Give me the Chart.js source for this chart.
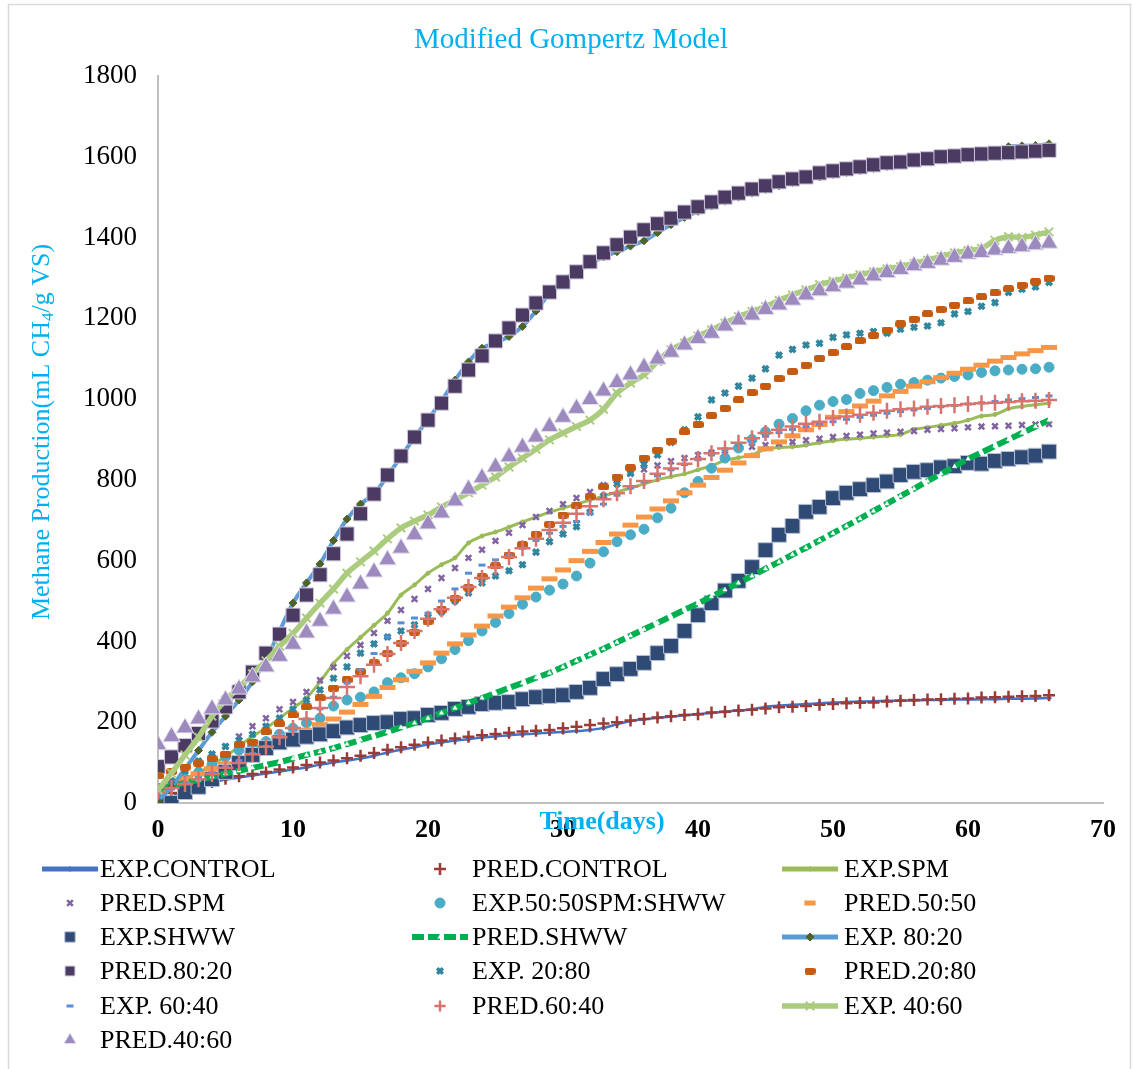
<!DOCTYPE html>
<html>
<head>
<meta charset="utf-8">
<title>Modified Gompertz Model</title>
<script src="https://cdn.jsdelivr.net/npm/chart.js@4.4.1/dist/chart.umd.min.js"></script>
<style>
  html, body { margin: 0; padding: 0; background: #ffffff; overflow: hidden; }
  #wrap { position: absolute; left: 0; top: 0; width: 1135px; height: 1069px; }
</style>
</head>
<body>
<div id="wrap"><canvas id="gompertz"></canvas></div>
<script>
// days of digestion
const days = [0,1,2,3,4,5,6,7,8,9,10,11,12,13,14,15,16,17,18,19,20,21,22,23,24,25,26,27,28,29,30,31,32,33,
  34,35,36,37,38,39,40,41,42,43,44,45,46,47,48,49,50,51,52,53,54,55,56,57,58,59,60,61,62,63,64,65,66];

// cumulative methane, mL CH4/g VS
const expControl = [0,15,30,42,50,58,63,68,73,78,83,88,95,100,105,110,117,125,132,138,145,150,155,158,162,165,168,170,172,174,
  176,178,181,186,195,203,207,211,214,217,220,223,226,229,232,238,241,243,245,247,249,250,251,252,253,254,254,255,255,256,
  256,257,257,258,258,259,260];
const predControl = [15,25,35,45,52,60,66,72,77,83,88,94,100,105,111,117,124,132,138,144,150,155,160,164,168,171,174,177,179,181,
  185,189,193,197,200,204,208,212,215,218,220,224,226,229,231,234,237,238,240,243,245,247,248,249,251,253,255,256,257,258,
  259,261,262,263,264,265,267];
const expSpm = [30,45,60,75,95,115,140,165,185,210,235,260,300,345,380,410,440,470,515,540,569,590,607,644,661,671,683,696,708,720,
  730,740,750,760,770,780,790,800,808,815,825,835,848,855,862,876,880,882,886,892,897,901,903,906,909,912,925,930,935,940,
  948,958,962,976,982,986,990];
const predSpm = [20,45,69,90,115,140,165,190,210,232,250,275,304,336,364,391,421,451,478,505,530,557,582,607,627,649,669,688,708,723,
  740,755,770,787,803,815,826,836,846,854,861,867,872,877,882,886,890,894,898,902,906,909,912,915,917,919,921,924,926,928,
  930,932,933,934,936,937,938];
const exp5050 = [30,45,60,75,95,114,131,139,152,170,185,198,210,240,255,262,275,298,310,320,337,357,380,402,426,447,469,492,510,527,
  542,562,594,622,647,664,678,706,730,768,796,829,854,879,900,919,938,952,971,985,994,999,1014,1021,1029,1037,1041,1047,1052,1056,
  1060,1066,1070,1072,1074,1075,1079];
const pred5050 = [40,50,60,72,85,97,110,123,137,151,165,180,194,208,225,244,264,286,305,326,347,371,394,416,438,463,485,508,532,555,
  577,600,623,645,666,688,708,728,748,768,787,806,824,842,860,877,894,909,924,937,955,969,983,995,1008,1019,1032,1043,1053,1064,
  1074,1084,1094,1103,1112,1120,1128];
const expShww = [0,0,27,40,59,77,99,119,136,150,157,164,170,178,187,193,198,200,208,210,218,223,233,238,245,248,250,257,262,265,
  267,275,285,307,319,332,347,371,389,426,465,495,526,550,584,626,664,686,721,733,755,768,777,787,796,812,820,824,831,834,
  842,840,847,852,856,860,870];
const predShww = [35,42,50,57,65,73,80,87,94,101,110,119,127,136,146,156,166,176,187,198,210,223,235,248,260,272,285,297,310,322,
  337,352,367,382,398,414,430,446,462,478,494,511,528,545,562,580,597,615,632,650,668,686,704,723,741,760,778,797,815,833,
  852,868,884,900,916,932,948];
const exp8020 = [5,40,85,130,175,215,255,300,355,425,495,545,592,650,703,740,765,810,858,905,950,995,1047,1092,1126,1140,1155,1180,1218,1262,
  1295,1315,1335,1352,1365,1379,1392,1412,1432,1450,1465,1478,1490,1500,1510,1519,1528,1536,1543,1550,1556,1561,1566,1571,1576,1581,
  1586,1590,1594,1598,1602,1606,1612,1625,1627,1628,1632];
const pred8020 = [90,114,142,172,203,238,275,324,371,418,465,515,565,617,666,716,765,812,859,906,948,990,1032,1072,1107,1144,1176,1208,1238,1265,
  1290,1315,1340,1362,1382,1401,1419,1434,1448,1463,1476,1488,1500,1510,1520,1528,1538,1545,1550,1560,1565,1570,1575,1580,1585,1587,
  1592,1595,1600,1602,1605,1607,1609,1610,1612,1614,1616];
const exp2080 = [40,55,80,104,121,140,155,170,190,210,232,255,280,309,337,371,394,411,426,441,460,473,500,520,545,562,575,590,621,647,
  666,684,720,760,790,817,839,862,893,924,956,998,1015,1032,1052,1075,1109,1123,1134,1138,1153,1159,1163,1167,1163,1173,1178,1181,1189,1211,
  1217,1230,1239,1264,1272,1278,1289];
const pred2080 = [67,78,89,99,110,121,144,151,176,196,218,238,260,284,305,325,347,370,396,423,450,478,506,533,560,587,614,640,665,690,
  713,736,758,783,807,830,854,874,896,919,937,959,977,998,1016,1032,1051,1068,1084,1101,1115,1130,1145,1158,1171,1186,1198,1211,1222,1233,
  1243,1253,1263,1273,1282,1291,1299];
const exp6040 = [20,35,50,62,75,90,105,122,140,163,185,208,233,262,297,330,370,411,446,458,470,500,530,569,589,602,615,631,650,668,
  685,697,716,740,762,780,795,810,825,838,850,862,874,886,897,908,917,925,932,938,944,950,955,960,965,969,973,977,981,984,
  988,991,994,998,1001,1004,1008];
const pred6040 = [27,37,47,59,72,87,99,121,139,163,186,208,235,260,287,314,342,369,396,426,456,480,508,535,557,584,609,631,654,676,
  694,716,735,752,767,784,797,815,828,840,852,866,878,892,903,916,924,932,939,944,953,957,961,966,971,975,977,981,983,985,
  988,990,991,993,995,996,998];
const exp4060 = [32,74,119,163,215,255,285,320,352,388,420,458,495,530,569,597,624,654,681,698,713,733,750,768,787,807,832,854,876,899,
  916,932,948,975,1015,1040,1060,1093,1122,1139,1156,1171,1188,1204,1217,1229,1244,1258,1270,1283,1292,1300,1308,1315,1322,1328,
  1336,1344,1353,1362,1368,1373,1393,1402,1400,1406,1414];
const pred4060 = [144,164,186,208,233,255,282,312,337,363,393,421,450,480,510,542,572,602,631,664,691,718,748,777,805,832,857,881,906,932,
  955,977,999,1020,1041,1060,1079,1099,1116,1134,1150,1163,1181,1196,1208,1222,1233,1245,1258,1268,1278,1287,1295,1305,1313,1321,
  1330,1336,1344,1351,1359,1363,1369,1373,1377,1382,1386];

const serif = "'Liberation Serif', 'Times New Roman', serif";
const cyan = '#00B0F0';

function pts(vals) {
    return days.map((d, i) => ({ x: d, y: vals[i] }));
}

// small rounded bar used as a marker
function pill(w, h, color) {
    const c = document.createElement('canvas');
    c.width = w; c.height = h;
    const g = c.getContext('2d');
    g.fillStyle = color;
    g.beginPath();
    g.roundRect(0, 0, w, h, 2.5);
    g.fill();
    return c;
}

function lineSet(label, vals, color, width, marker) {
    return Object.assign({
        label: label, data: pts(vals), showLine: true,
        borderColor: color, borderWidth: width, tension: 0.3,
        pointBackgroundColor: color, pointBorderColor: color, pointBorderWidth: 1
    }, marker);
}

function dotSet(label, vals, marker) {
    return Object.assign({ label: label, data: pts(vals), showLine: false }, marker);
}

const datasets = [
    lineSet('EXP.CONTROL', expControl, '#4472C4', 2.5, { pointStyle: 'rectRot', pointRadius: 2.5, legendWidth: 5 }),
    dotSet('PRED.CONTROL', predControl, { pointStyle: 'cross', pointRadius: 6, pointBorderColor: '#9B3B38', pointBorderWidth: 2.5 }),
    lineSet('EXP.SPM', expSpm, '#9BBB59', 3, { pointStyle: 'circle', pointRadius: 2, legendWidth: 5 }),
    dotSet('PRED.SPM', predSpm, { pointStyle: 'crossRot', pointRadius: 4, pointBorderColor: '#8064A2', pointBorderWidth: 2.5 }),
    dotSet('EXP.50:50SPM:SHWW', exp5050, { pointStyle: 'circle', pointRadius: 5, pointBackgroundColor: '#4BACC6', pointBorderColor: '#4BACC6', pointBorderWidth: 1 }),
    dotSet('PRED.50:50', pred5050, { pointStyle: 'line', pointRadius: 8, pointBorderColor: '#F79646', pointBorderWidth: 5 }),
    dotSet('EXP.SHWW', expShww, { pointStyle: 'rect', pointRadius: 10.5, pointBackgroundColor: '#2E4A75', pointBorderColor: '#B8C2D6', pointBorderWidth: 1 }),
    lineSet('PRED.SHWW', predShww, '#00B050', 6, { borderDash: [12, 4], tension: 0, pointStyle: 'triangle', pointRadius: 2.5,
        pointBackgroundColor: '#ffffff', pointBorderColor: '#ffffff', pointBorderWidth: 0.5 }),
    lineSet('EXP. 80:20', exp8020, '#5B9BD5', 4, { pointStyle: 'rectRot', pointRadius: 4, pointBackgroundColor: '#4F6228', pointBorderColor: '#4F6228', legendWidth: 5 }),
    dotSet('PRED.80:20', pred8020, { pointStyle: 'rect', pointRadius: 10, pointBackgroundColor: '#4B3A62', pointBorderColor: '#CFC8DD', pointBorderWidth: 1 }),
    dotSet('EXP. 20:80', exp2080, { pointStyle: 'crossRot', pointRadius: 4, pointBorderColor: '#31859C', pointBorderWidth: 3.5 }),
    dotSet('PRED.20:80', pred2080, { pointStyle: pill(11, 7, '#C55A11'), pointRadius: 5 }),
    dotSet('EXP. 60:40', exp6040, { pointStyle: 'line', pointRadius: 3.5, pointBorderColor: '#558ED5', pointBorderWidth: 3 }),
    dotSet('PRED.60:40', pred6040, { pointStyle: 'cross', pointRadius: 8, pointBorderColor: '#D9736E', pointBorderWidth: 2.5 }),
    lineSet('EXP. 40:60', exp4060, '#ABCB7E', 5.5, { pointStyle: 'crossRot', pointRadius: 6, pointBorderWidth: 2 }),
    dotSet('PRED.40:60', pred4060, { pointStyle: 'triangle', pointRadius: 10, pointBackgroundColor: '#9D8BC0', pointBorderColor: '#E4DEEE', pointBorderWidth: 1 })
];
// later series sit on top, as in the source sheet
datasets.forEach((ds, i) => { ds.order = datasets.length - i; });

function drawMarker(ctx, ds, x, y, scale) {
    const r = (ds.pointRadius || 3) * scale;
    ctx.save();
    ctx.fillStyle = ds.pointBackgroundColor || ds.pointBorderColor || '#000';
    ctx.strokeStyle = ds.pointBorderColor || ds.pointBackgroundColor || '#000';
    ctx.lineWidth = ds.pointBorderWidth || 1;
    Chart.helpers.drawPoint(ctx, { pointStyle: ds.pointStyle, radius: r, borderWidth: ds.pointBorderWidth || 1, rotation: 0 }, x, y);
    ctx.restore();
}

const extras = {
    id: 'extras',
    beforeDraw(chart) {
        const ctx = chart.ctx;
        ctx.save();
        ctx.fillStyle = '#ffffff';
        ctx.fillRect(0, 0, chart.width, chart.height);
        ctx.strokeStyle = '#D9D9D9';
        ctx.lineWidth = 1.5;
        ctx.strokeRect(8.5, 4.5, 1122, 1080);
        ctx.restore();
    },
    afterDraw(chart) {
        const ctx = chart.ctx;

        // chart title
        ctx.save();
        ctx.fillStyle = cyan;
        ctx.font = '29px ' + serif;
        ctx.textAlign = 'center';
        ctx.textBaseline = 'middle';
        ctx.fillText('Modified Gompertz Model', 571, 40);
        ctx.restore();

        // y axis title with subscript
        ctx.save();
        ctx.translate(42, 432);
        ctx.rotate(-Math.PI / 2);
        ctx.fillStyle = cyan;
        ctx.textBaseline = 'middle';
        ctx.textAlign = 'left';
        const big = '26px ' + serif, small = '17px ' + serif;
        const a = 'Methane Production(mL CH', b = '4', c = '/g VS)';
        ctx.font = big; const wa = ctx.measureText(a).width, wc = ctx.measureText(c).width;
        ctx.font = small; const wb = ctx.measureText(b).width;
        let x0 = -(wa + wb + wc) / 2;
        ctx.font = big; ctx.fillText(a, x0, 0);
        ctx.font = small; ctx.fillText(b, x0 + wa, 7);
        ctx.font = big; ctx.fillText(c, x0 + wa + wb, 0);
        ctx.restore();

        // x axis title
        ctx.save();
        ctx.fillStyle = cyan;
        ctx.font = 'bold 26px ' + serif;
        ctx.textAlign = 'center';
        ctx.textBaseline = 'middle';
        ctx.fillText('Time(days)', 602, 822);
        ctx.restore();

        // legend, three columns
        const colText = [100, 472, 844];
        const colMark = [70, 440, 810];
        const rowY = [869, 903, 937, 971, 1006, 1040];
        chart.data.datasets.forEach((ds, i) => {
            const col = i % 3, row = Math.floor(i / 3);
            const mx = colMark[col], y = rowY[row];
            if (ds.showLine) {
                ctx.save();
                ctx.strokeStyle = ds.borderColor;
                ctx.lineWidth = ds.legendWidth || ds.borderWidth;
                ctx.setLineDash(ds.borderDash || []);
                ctx.beginPath();
                ctx.moveTo(mx - 28, y);
                ctx.lineTo(mx + 28, y);
                ctx.stroke();
                ctx.restore();
            }
            drawMarker(ctx, ds, mx, y, ds.pointRadius > 7 ? 0.7 : 1);
            ctx.save();
            ctx.fillStyle = '#000000';
            ctx.font = '26px ' + serif;
            ctx.textAlign = 'left';
            ctx.textBaseline = 'middle';
            ctx.fillText(ds.label, colText[col], y + 1);
            ctx.restore();
        });
    }
};

new Chart(document.getElementById('gompertz'), {
    type: 'scatter',
    data: { datasets: datasets },
    options: {
        responsive: true,
        maintainAspectRatio: false,
        animation: false,
        events: [],
        layout: { padding: { left: 0, right: 32, top: 76, bottom: 216 } },
        plugins: {
            legend: { display: false },
            tooltip: { enabled: false },
            title: { display: false }
        },
        scales: {
            x: {
                type: 'linear', min: 0, max: 70,
                ticks: { stepSize: 10, color: '#000000', padding: 12, font: { family: serif, size: 26, weight: 'bold' } },
                grid: { display: false, drawTicks: false },
                border: { color: '#BFBFBF', width: 2 },
                afterFit(scale) { scale.height = 50; }
            },
            y: {
                min: 0, max: 1800,
                ticks: { stepSize: 200, color: '#000000', padding: 21, font: { family: serif, size: 27 },
                    callback: v => String(v) },
                grid: { display: false, drawTicks: false },
                border: { color: '#BFBFBF', width: 2 },
                afterFit(scale) { scale.width = 158; }
            }
        }
    },
    plugins: [extras]
});
</script>
</body>
</html>
